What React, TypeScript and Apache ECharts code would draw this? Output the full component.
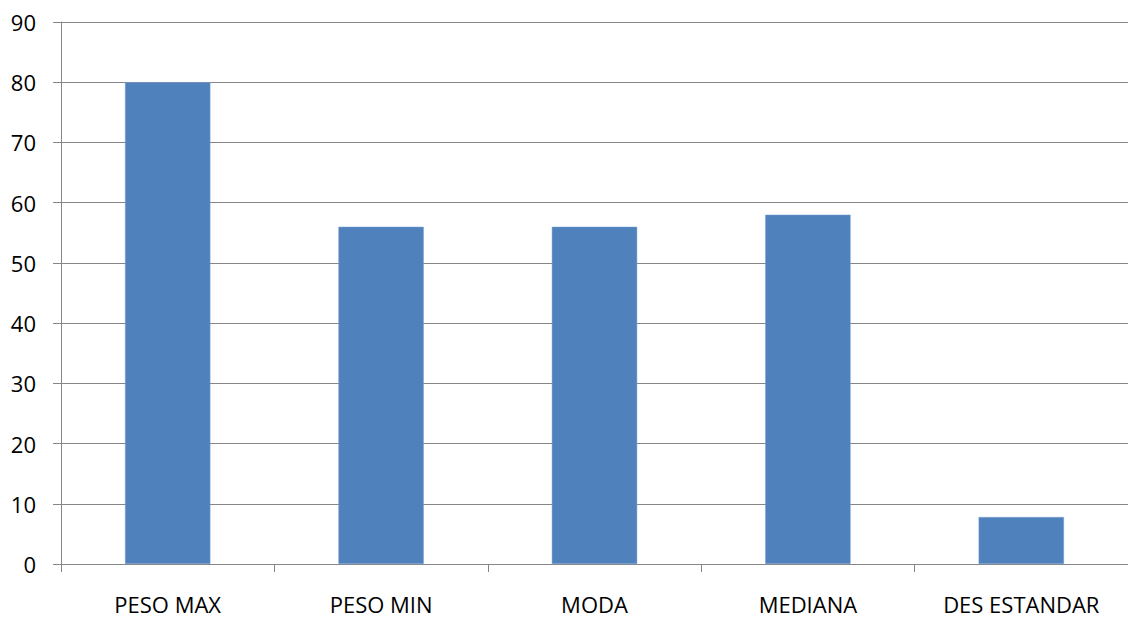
import React, { useEffect, useRef } from "react";
import * as echarts from "echarts";

const categories = ["PESO MAX", "PESO MIN", "MODA", "MEDIANA", "DES ESTANDAR"];
const values = [80, 56, 56, 58, 7.8];
const yMin = 0;
const yMax = 90;
const yInterval = 10;

export default function App() {
  const ref = useRef<HTMLDivElement>(null);
  useEffect(() => {
    document.body.style.margin = "0";
    const chart = echarts.init(ref.current!, null, { renderer: "svg" });
    const gray = "#868686";
    chart.setOption({
      animation: false,
      backgroundColor: "#ffffff",
      textStyle: { fontFamily: "Open Sans" },
      grid: { left: 61, right: -5, top: 22, bottom: 58, containLabel: false },
      xAxis: {
        type: "category",
        data: categories,
        axisLine: { show: true, lineStyle: { color: gray, width: 1 } },
        axisTick: { show: true, length: 8, lineStyle: { color: gray } },
        axisLabel: { color: "#000", fontSize: 22, margin: 29, fontFamily: "Open Sans" },
      },
      yAxis: {
        type: "value",
        min: yMin,
        max: yMax,
        interval: yInterval,
        axisLine: { show: true, lineStyle: { color: gray, width: 1 } },
        axisTick: { show: true, length: 8, lineStyle: { color: gray } },
        splitLine: { show: true, lineStyle: { color: gray, width: 1 } },
        axisLabel: { color: "#000", fontSize: 22, margin: 25, fontFamily: "Open Sans" },
      },
      series: [
        {
          type: "bar",
          data: values,
          barWidth: "40%",
          itemStyle: { color: "#4F81BD", borderColor: "#7EA1D0", borderWidth: 0.5 },
        },
      ],
    });
    return () => chart.dispose();
  }, []);
  return <div ref={ref} style={{ width: 1128, height: 622 }} />;
}
